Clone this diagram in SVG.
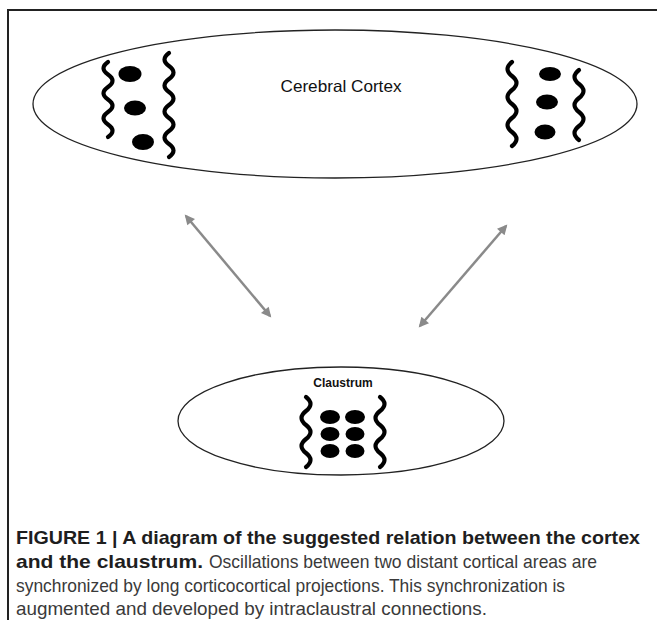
<svg xmlns="http://www.w3.org/2000/svg" width="657" height="620" viewBox="0 0 657 620">
<style>
.oval{fill:#fff;stroke:#222;stroke-width:1.3}
.wave{fill:none;stroke:#000;stroke-width:4.2;stroke-linecap:round}
.blob{fill:#000}
.conn{stroke:#8a8a8a;stroke-width:2.5;fill:none}
.lbl{font-family:"Liberation Sans",Arial,sans-serif;fill:#111}
.cap{font-family:"Liberation Sans Narrow","Liberation Sans",Arial,sans-serif;font-size:19px;fill:#3a3a3a}
.capb{font-weight:bold;fill:#1e1e1e}
</style>
<defs>
<marker id="ah" viewBox="0 0 10 10" refX="8" refY="5" markerWidth="4.4" markerHeight="4" orient="auto-start-reverse" markerUnits="strokeWidth">
<path d="M0,0 L10,5 L0,10 Z" fill="#8a8a8a"/>
</marker>
</defs>
<rect width="657" height="620" fill="#fff"/>
<path d="M8,620 V10 H657" fill="none" stroke="#222" stroke-width="2"/>

<g id="cortex">
<ellipse class="oval" cx="335" cy="104" rx="302" ry="74"/>
<text class="lbl" x="341" y="92" font-size="16.5" text-anchor="middle" textLength="121" lengthAdjust="spacingAndGlyphs">Cerebral Cortex</text>
<g id="cortex-left">
<path class="wave" d="M108,62 q-9,6.25 0,12.5 t0,12.5 t0,12.5 t0,12.5 t0,12.5 t0,12.5"/>
<path class="wave" d="M169,53 q-9,6.5 0,13 t0,13 t0,13 t0,13 t0,13 t0,13 t0,13 t0,13"/>
<ellipse class="blob" cx="130" cy="74" rx="11.5" ry="8"/>
<ellipse class="blob" cx="135" cy="108" rx="11" ry="7.5"/>
<ellipse class="blob" cx="143" cy="142" rx="11" ry="8"/>
</g>
<g id="cortex-right">
<path class="wave" d="M512,62 q-9,7 0,14 t0,14 t0,14 t0,14 t0,14 t0,14"/>
<path class="wave" d="M579,70 q-9,7 0,14 t0,14 t0,14 t0,14 t0,14"/>
<ellipse class="blob" cx="550" cy="74" rx="11" ry="7"/>
<ellipse class="blob" cx="547" cy="102" rx="11" ry="7.5"/>
<ellipse class="blob" cx="545" cy="132" rx="10.5" ry="7.5"/>
</g>
</g>

<g id="claustrum">
<ellipse class="oval" cx="341" cy="421" rx="163" ry="54"/>
<text class="lbl" x="343" y="387" font-size="12" font-weight="bold" text-anchor="middle">Claustrum</text>
<path class="wave" d="M306,397 q9,7 0,14 t0,14 t0,14 t0,14 t0,14"/>
<path class="wave" d="M380,397 q9,7 0,14 t0,14 t0,14 t0,14 t0,14"/>
<ellipse class="blob" cx="330" cy="417" rx="10" ry="7"/>
<ellipse class="blob" cx="355" cy="417" rx="10" ry="7"/>
<ellipse class="blob" cx="330" cy="434" rx="9.5" ry="7"/>
<ellipse class="blob" cx="355" cy="434" rx="9.5" ry="7"/>
<ellipse class="blob" cx="330" cy="451" rx="9.5" ry="7"/>
<ellipse class="blob" cx="355" cy="451" rx="9.5" ry="7"/>
</g>

<g id="connectors">
<line class="conn" x1="186" y1="216" x2="270" y2="316" marker-start="url(#ah)" marker-end="url(#ah)"/>
<line class="conn" x1="506" y1="226" x2="420" y2="326" marker-start="url(#ah)" marker-end="url(#ah)"/>
</g>

<g id="caption">
<text class="cap capb" x="16" y="544" textLength="624" lengthAdjust="spacingAndGlyphs">FIGURE 1 | A diagram of the suggested relation between the cortex</text>
<text class="cap capb" x="16" y="568" textLength="187" lengthAdjust="spacingAndGlyphs">and the claustrum.</text>
<text class="cap" x="209" y="568" textLength="388" lengthAdjust="spacingAndGlyphs">Oscillations between two distant cortical areas are</text>
<text class="cap" x="16" y="592" textLength="549" lengthAdjust="spacingAndGlyphs">synchronized by long corticocortical projections. This synchronization is</text>
<text class="cap" x="16" y="615" textLength="471" lengthAdjust="spacingAndGlyphs">augmented and developed by intraclaustral connections.</text>
</g>
</svg>
